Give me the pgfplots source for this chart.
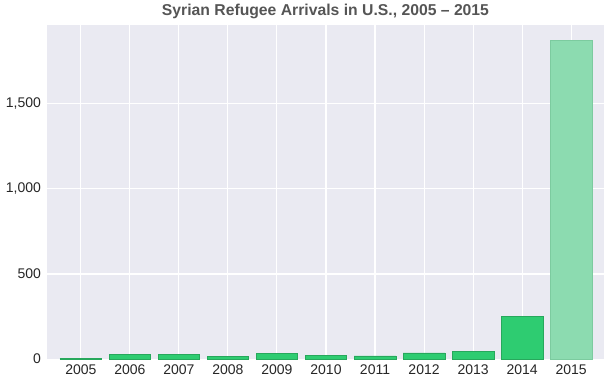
\documentclass[border=0pt]{standalone}
\usepackage{pgfplots}
\pgfplotsset{compat=1.18}
\usepackage{fontspec}
\setmainfont{Liberation Sans}
\definecolor{bgc}{HTML}{EAEAF2}
\definecolor{barc}{HTML}{2ECC71}
\definecolor{bare}{HTML}{27A85C}
\definecolor{barl}{HTML}{8CDBB0}
\definecolor{barle}{HTML}{7CCB9F}
\definecolor{tickc}{HTML}{262626}
\definecolor{titlec}{HTML}{555555}
\begin{document}
\begin{tikzpicture}
\begin{axis}[
  scale only axis,
  width=417.75pt, height=250.9pt,
  xmin=-0.69, xmax=10.67,
  ymin=0, ymax=1966,
  axis background/.style={fill=bgc},
  axis line style={draw=none},
  major tick length=0pt,
  xtick={0,...,10},
  xticklabels={2005,2006,2007,2008,2009,2010,2011,2012,2013,2014,2015},
  ytick={0,500,1000,1500},
  grid=major,
  major grid style={white, line width=0.8pt},
  /pgf/number format/assume math mode=true,
  /pgf/number format/1000 sep={,},
  ticklabel style={font=\fontsize{10.5}{12}\selectfont, text=tickc},
  xticklabel style={yshift=-1pt},
  yticklabel style={xshift=-1pt},
  title={\bfseries Syrian Refugee Arrivals in U.S., 2005 -- 2015},
  title style={font=\fontsize{11.8}{14}\selectfont, text=titlec, yshift=-5.5pt},
  ybar, bar width=0.85,
  bar shift=0pt,
  clip=false,
]
\addplot[fill=barc, draw=bare, line width=0.5pt] coordinates {
  (0,3) (1,27) (2,25) (3,14) (4,32) (5,20) (6,19) (7,36) (8,44) (9,250)
};
\addplot[fill=barl, draw=barle, line width=0.5pt] coordinates {(10,1872)};
\end{axis}
\path (current axis.south west) ++(-35.25pt,-21.4pt) coordinate (bl);
\path (current axis.north east) ++(6pt,18pt) coordinate (tr);
\useasboundingbox (bl) rectangle (tr);
\end{tikzpicture}
\end{document}
